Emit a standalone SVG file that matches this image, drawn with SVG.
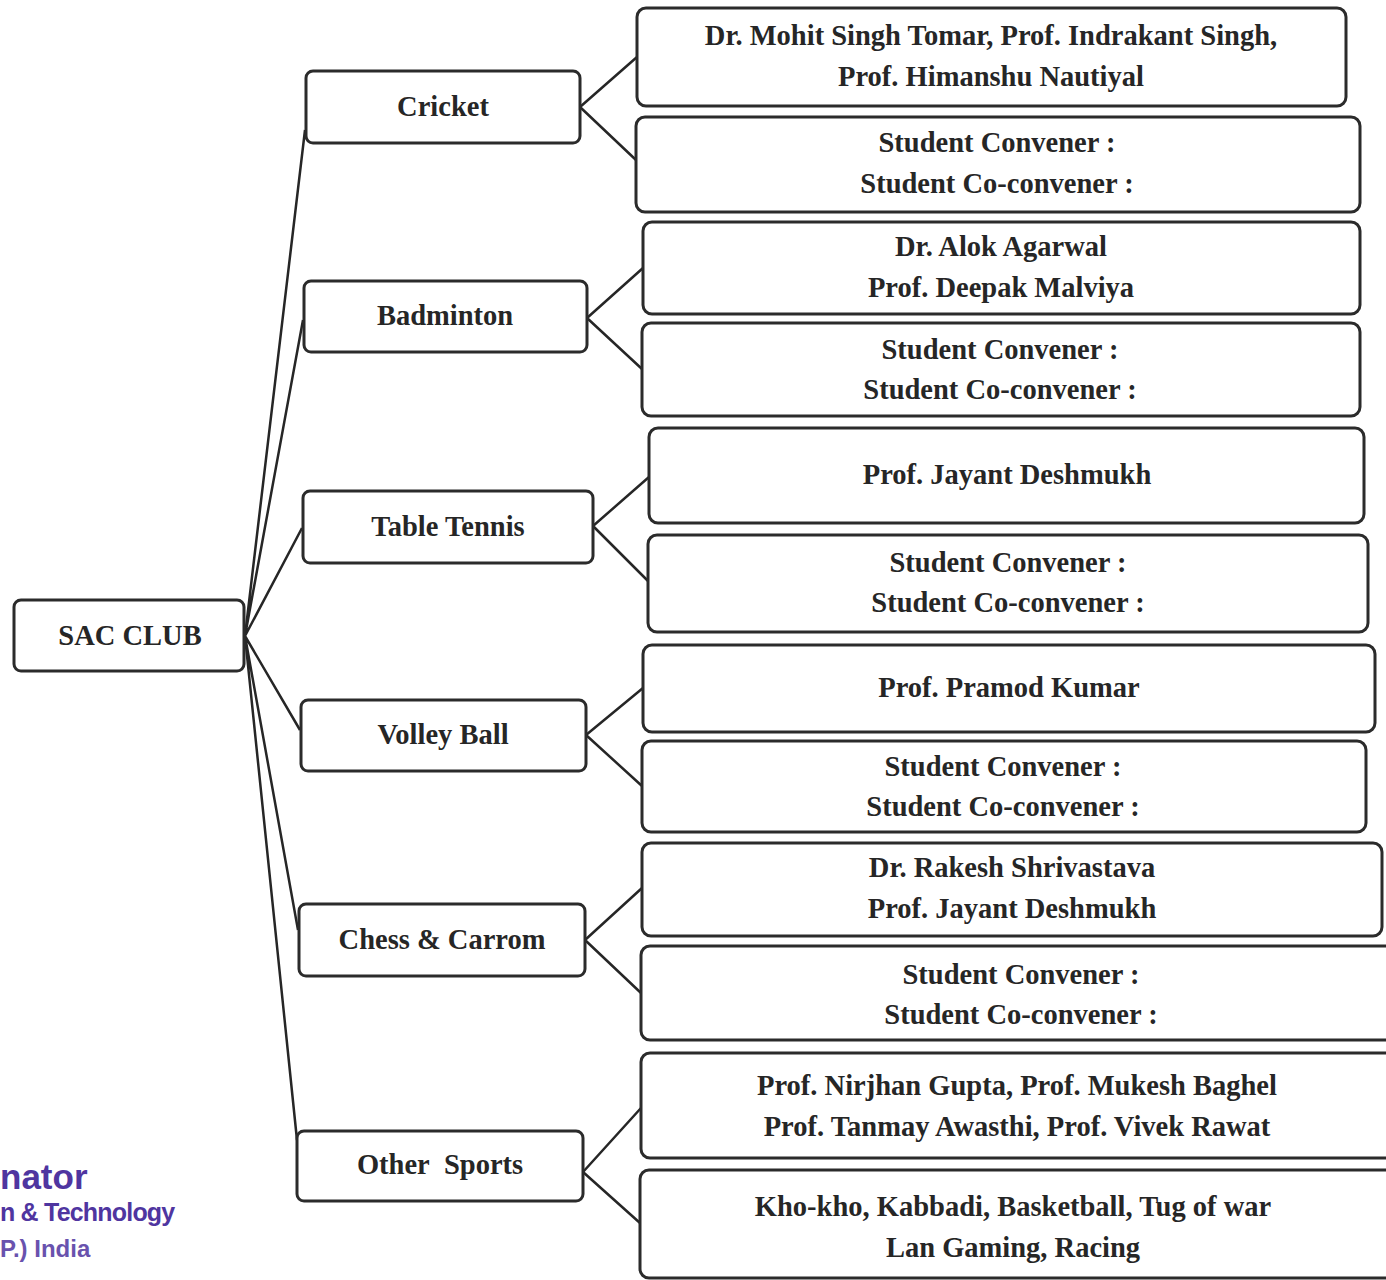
<svg xmlns="http://www.w3.org/2000/svg" width="1386" height="1280" viewBox="0 0 1386 1280">
<style>
.box{fill:#fff;stroke:#2b2b2b;stroke-width:3}
.t{font-family:"Liberation Serif","Times New Roman",serif;font-weight:bold;font-size:28.5px;fill:#262626;text-anchor:middle}
.c{stroke:#262626;stroke-width:2.5;fill:none}
.stamp{font-family:"Liberation Sans",Arial,sans-serif;font-weight:bold;fill:#4f35a0}
</style>
<rect width="1386" height="1280" fill="#fff"/>
<g id="connectors">
<path class="c" d="M245 636 L305 130 M245 636 L303 320 M245 636 L302 528 M245 636 L300 730 M245 636 L298 930 M245 636 L297 1140"/>
<path class="c" d="M580 107 L637 57 M580 107 L636 160"/>
<path class="c" d="M587 318 L643 268 M587 318 L642 369"/>
<path class="c" d="M593 526 L649 477 M593 526 L648 581"/>
<path class="c" d="M586 735 L643 688 M586 735 L642 786"/>
<path class="c" d="M585 940 L642 888 M585 940 L641 993"/>
<path class="c" d="M583 1172 L641 1108 M583 1172 L640 1223"/>
</g>
<g id="sac"><rect class="box" x="14" y="600" width="230" height="71" rx="7"/><text class="t" x="130" y="645">SAC CLUB</text></g>
<g id="cricket"><rect class="box" x="306" y="71" width="274" height="72" rx="7"/><text class="t" x="443" y="116">Cricket</text></g>
<g id="badminton"><rect class="box" x="304" y="281" width="283" height="71" rx="7"/><text class="t" x="445" y="325">Badminton</text></g>
<g id="tt"><rect class="box" x="303" y="491" width="290" height="72" rx="7"/><text class="t" x="448" y="536">Table Tennis</text></g>
<g id="vb"><rect class="box" x="301" y="700" width="285" height="71" rx="7"/><text class="t" x="443" y="744">Volley Ball</text></g>
<g id="chess"><rect class="box" x="299" y="904" width="286" height="72" rx="7"/><text class="t" x="442" y="949">Chess &amp; Carrom</text></g>
<g id="other"><rect class="box" x="297" y="1131" width="286" height="70" rx="7"/><text class="t" x="440" y="1174">Other&#160; Sports</text></g>

<g id="cricket1"><rect class="box" x="637" y="8" width="709" height="98" rx="9"/><text class="t" x="991" y="45">Dr. Mohit Singh Tomar, Prof. Indrakant Singh,</text><text class="t" x="991" y="86">Prof. Himanshu Nautiyal</text></g>
<g id="cricket2"><rect class="box" x="636" y="117" width="724" height="95" rx="9"/><text class="t" x="997" y="152">Student Convener :</text><text class="t" x="997" y="193">Student Co-convener :</text></g>
<g id="bad1"><rect class="box" x="643" y="222" width="717" height="92" rx="9"/><text class="t" x="1001" y="256">Dr. Alok Agarwal</text><text class="t" x="1001" y="297">Prof. Deepak Malviya</text></g>
<g id="bad2"><rect class="box" x="642" y="323" width="718" height="93" rx="9"/><text class="t" x="1000" y="359">Student Convener :</text><text class="t" x="1000" y="399">Student Co-convener :</text></g>
<g id="tt1"><rect class="box" x="649" y="428" width="715" height="95" rx="9"/><text class="t" x="1007" y="484">Prof. Jayant Deshmukh</text></g>
<g id="tt2"><rect class="box" x="648" y="535" width="720" height="97" rx="9"/><text class="t" x="1008" y="572">Student Convener :</text><text class="t" x="1008" y="612">Student Co-convener :</text></g>
<g id="vb1"><rect class="box" x="643" y="645" width="732" height="87" rx="9"/><text class="t" x="1009" y="697">Prof. Pramod Kumar</text></g>
<g id="vb2"><rect class="box" x="642" y="741" width="724" height="91" rx="9"/><text class="t" x="1003" y="776">Student Convener :</text><text class="t" x="1003" y="816">Student Co-convener :</text></g>
<g id="chess1"><rect class="box" x="642" y="843" width="740" height="93" rx="9"/><text class="t" x="1012" y="877">Dr. Rakesh Shrivastava</text><text class="t" x="1012" y="918">Prof. Jayant Deshmukh</text></g>
<g id="chess2"><rect class="box" x="641" y="946" width="760" height="94" rx="9"/><text class="t" x="1021" y="984">Student Convener :</text><text class="t" x="1021" y="1024">Student Co-convener :</text></g>
<g id="other1"><rect class="box" x="641" y="1053" width="760" height="105" rx="9"/><text class="t" x="1017" y="1095">Prof. Nirjhan Gupta, Prof. Mukesh Baghel</text><text class="t" x="1017" y="1136">Prof. Tanmay Awasthi, Prof. Vivek Rawat</text></g>
<g id="other2"><rect class="box" x="640" y="1170" width="760" height="108" rx="9"/><text class="t" x="1013" y="1216">Kho-kho, Kabbadi, Basketball, Tug of war</text><text class="t" x="1013" y="1257">Lan Gaming, Racing</text></g>

<g id="stamp">
<text class="stamp" x="0" y="1189" font-size="35">nator</text>
<text class="stamp" x="0" y="1221" font-size="25" letter-spacing="-0.8">n &amp; Technology</text>
<text class="stamp" x="0" y="1257" font-size="24" opacity="0.85">P.) India</text>
</g>
</svg>
